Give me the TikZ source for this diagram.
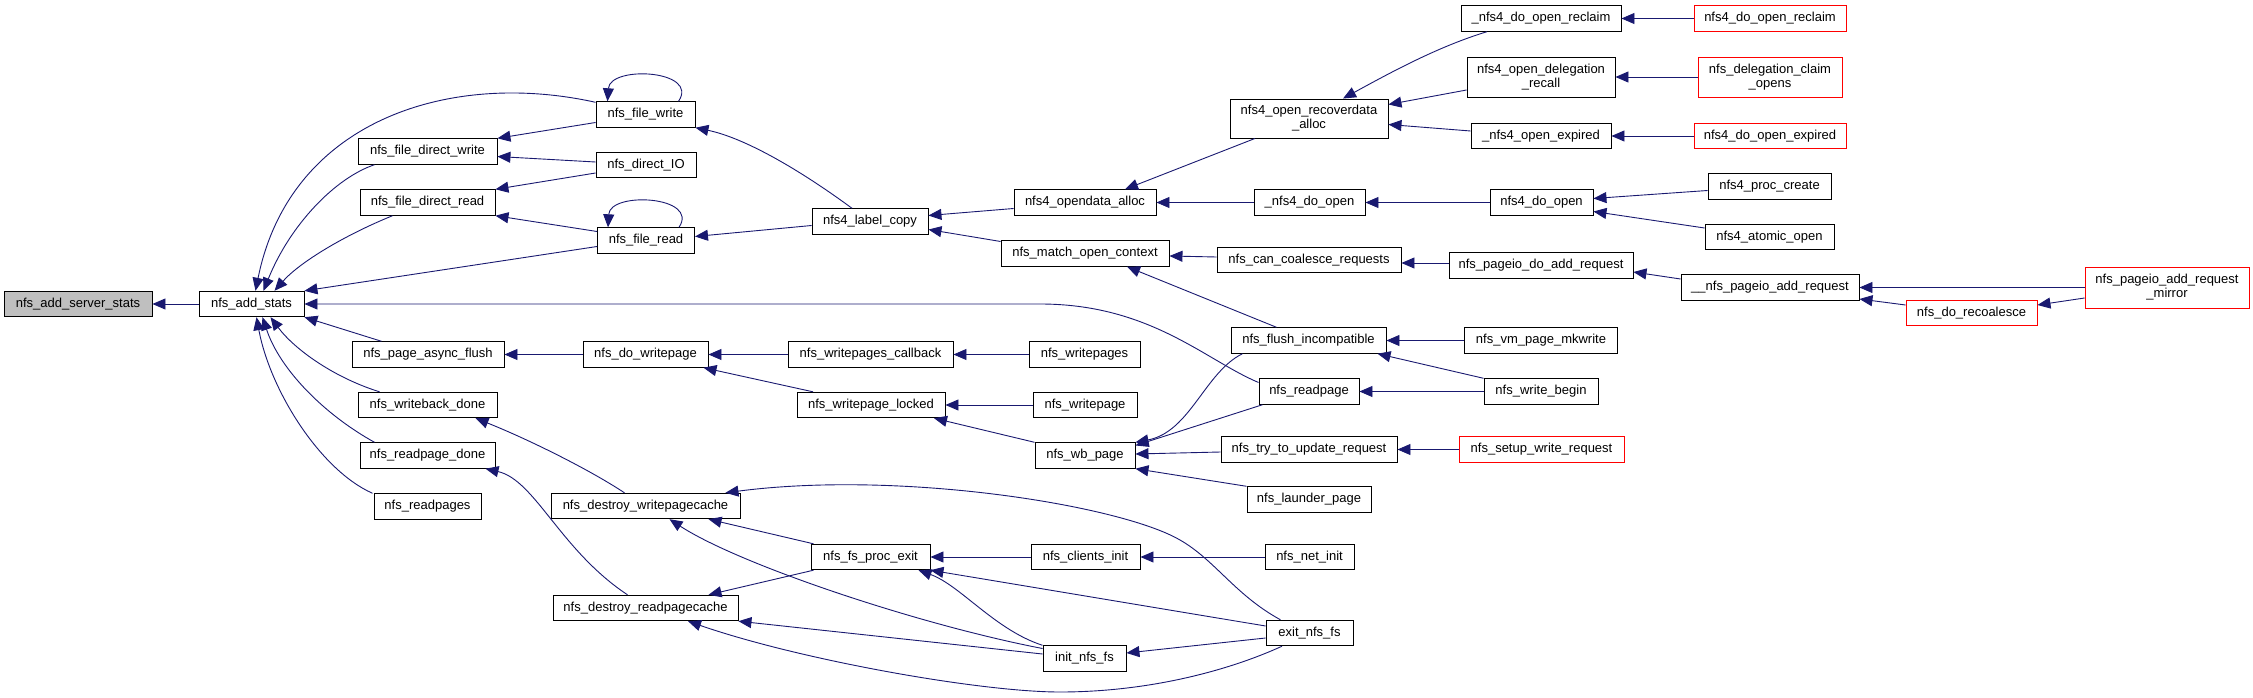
\documentclass[tikz,border=0pt]{standalone}
\usepackage{fontspec}
\setmainfont{Liberation Sans}
\usetikzlibrary{arrows.meta,calc}
\definecolor{edgeblue}{RGB}{25,25,112}
\definecolor{rootgray}{RGB}{191,191,191}
\definecolor{nodered}{RGB}{255,0,0}
\newcommand\fsz{\fontsize{13}{14}\selectfont}
\tikzset{
  fn/.style={draw=black, fill=white, line width=0.9pt, inner sep=0pt, font=\fsz, align=center, minimum height=25.5pt},
  fnred/.style={fn, draw=nodered},
  calls/.style={draw=edgeblue, line width=0.9pt, -{Triangle[length=13pt,width=11pt]}}
}
\begin{document}
\begin{tikzpicture}[x=1pt,y=-1pt]
\useasboundingbox (0,0) rectangle (2253,698);
% column 0/1
\node[fn, fill=rootgray, minimum width=148pt] (addsrv) at (78,304) {nfs\_add\_server\_stats};
\node[fn, minimum width=105pt] (addst) at (251.5,304) {nfs\_add\_stats};
% column 2
\node[fn, minimum width=139pt] (fdw) at (427.5,151.5) {nfs\_file\_direct\_write};
\node[fn, minimum width=135pt] (fdr) at (427.5,202.5) {nfs\_file\_direct\_read};
\node[fn, minimum width=152pt] (paf) at (428,354.5) {nfs\_page\_async\_flush};
\node[fn, minimum width=139pt] (wbd) at (427.5,405) {nfs\_writeback\_done};
\node[fn, minimum width=135pt] (rpd) at (427.5,455.5) {nfs\_readpage\_done};
\node[fn, minimum width=107pt] (rps) at (427.5,506.5) {nfs\_readpages};
% column 3
\node[fn, minimum width=99pt] (fw) at (645.5,114.5) {nfs\_file\_write};
\node[fn, minimum width=100pt] (dio) at (646,165) {nfs\_direct\_IO};
\node[fn, minimum width=97pt] (fr) at (646,240.5) {nfs\_file\_read};
\node[fn, minimum width=125pt] (dwp) at (645.5,354.5) {nfs\_do\_writepage};
\node[fn, minimum width=189pt] (dwc) at (645.5,506) {nfs\_destroy\_writepagecache};
\node[fn, minimum width=185pt] (drc) at (645.5,608) {nfs\_destroy\_readpagecache};
% column 4
\node[fn, minimum width=116pt] (lc) at (870,221.5) {nfs4\_label\_copy};
\node[fn, minimum width=165pt] (wpc) at (870.5,354.5) {nfs\_writepages\_callback};
\node[fn, minimum width=148pt] (wpl) at (871,405) {nfs\_writepage\_locked};
\node[fn, minimum width=119pt] (fpe) at (870.5,557) {nfs\_fs\_proc\_exit};
% column 5
\node[fn, minimum width=142pt] (oda) at (1085,202.5) {nfs4\_opendata\_alloc};
\node[fn, minimum width=168pt] (moc) at (1085,253.5) {nfs\_match\_open\_context};
\node[fn, minimum width=111pt] (wps) at (1084.5,354.5) {nfs\_writepages};
\node[fn, minimum width=104pt] (wp) at (1085,405) {nfs\_writepage};
\node[fn, minimum width=100pt] (wb) at (1085,455.5) {nfs\_wb\_page};
\node[fn, minimum width=109pt] (ci) at (1085.5,557) {nfs\_clients\_init};
\node[fn, minimum width=83pt] (ini) at (1084.5,658.5) {init\_nfs\_fs};
% column 6
\node[fn, minimum width=158pt, minimum height=39pt] (ora) at (1309,118.5) {nfs4\_open\_recoverdata\\\_alloc};
\node[fn, minimum width=111pt] (ndo) at (1309.5,202.5) {\_nfs4\_do\_open};
\node[fn, minimum width=184pt] (ccr) at (1309,260) {nfs\_can\_coalesce\_requests};
\node[fn, minimum width=155pt] (fi) at (1308.5,340.5) {nfs\_flush\_incompatible};
\node[fn, minimum width=100pt] (rp) at (1309,391.5) {nfs\_readpage};
\node[fn, minimum width=176pt] (tur) at (1309,449.5) {nfs\_try\_to\_update\_request};
\node[fn, minimum width=124pt] (lp) at (1309,499.5) {nfs\_launder\_page};
\node[fn, minimum width=89pt] (ni) at (1309.5,557) {nfs\_net\_init};
\node[fn, minimum width=87pt] (ex) at (1309.5,633) {exit\_nfs\_fs};
% column 7
\node[fn, minimum width=160pt] (dor) at (1541,18.5) {\_nfs4\_do\_open\_reclaim};
\node[fn, minimum width=148pt, minimum height=40pt] (odr) at (1541,77) {nfs4\_open\_delegation\\\_recall};
\node[fn, minimum width=140pt] (oe) at (1541,136) {\_nfs4\_open\_expired};
\node[fn, minimum width=103pt] (do) at (1541.5,202.5) {nfs4\_do\_open};
\node[fn, minimum width=184pt] (pdar) at (1541,265.5) {nfs\_pageio\_do\_add\_request};
\node[fn, minimum width=153pt] (vpm) at (1541,340.5) {nfs\_vm\_page\_mkwrite};
\node[fn, minimum width=114pt] (wbg) at (1541,391.5) {nfs\_write\_begin};
\node[fnred, minimum width=165pt] (swr) at (1541.5,449.5) {nfs\_setup\_write\_request};
% column 8
\node[fnred, minimum width=152pt] (rdor) at (1770,18.5) {nfs4\_do\_open\_reclaim};
\node[fnred, minimum width=144pt, minimum height=40pt] (dco) at (1770,77) {nfs\_delegation\_claim\\\_opens};
\node[fnred, minimum width=152pt] (rdoe) at (1770,136) {nfs4\_do\_open\_expired};
\node[fn, minimum width=123pt] (pc) at (1769.5,186.5) {nfs4\_proc\_create};
\node[fn, minimum width=129pt] (ao) at (1769.5,237) {nfs4\_atomic\_open};
\node[fn, minimum width=178pt] (pag) at (1770,287.5) {\_\_nfs\_pageio\_add\_request};
% columns 9/10
\node[fnred, minimum width=131pt] (drco) at (1971.5,313) {nfs\_do\_recoalesce};
\node[fnred, minimum width=164pt, minimum height=41pt] (parm) at (2167,287.5) {nfs\_pageio\_add\_request\\\_mirror};

% edges (arrow at callee)
\draw[calls] (addst.west) -- (addsrv.east);
\draw[calls] ($(fw.north west)+(0,1)$) .. controls (450,70) and (290,120) .. ($(addst.north)+(4,0)$);
\draw[calls] ($(fdw.south west)+(17,0)$) .. controls (335,178) and (290,225) .. ($(addst.north)+(12,0)$);
\draw[calls] ($(fdr.south west)+(33,0)$) .. controls (345,235) and (300,262) .. ($(addst.north)+(23,0)$);
\draw[calls] ($(fr.west)+(0,6)$) -- (addst.north east);
\draw[calls] ($(rp.west)+(0,-9)$) .. controls (1205,360) and (1150,304) .. (1040,304) -- (addst.east);
\draw[calls] ($(paf.north west)+(30,0)$) -- (addst.south east);
\draw[calls] ($(wbd.north west)+(22,0)$) .. controls (335,378) and (295,350) .. ($(addst.south)+(19,0)$);
\draw[calls] ($(rpd.north west)+(15,0)$) .. controls (325,415) and (280,370) .. ($(addst.south)+(11,0)$);
\draw[calls] ($(rps.north west)+(-1,0)$) .. controls (320,470) and (270,390) .. ($(addst.south)+(5,0)$);

\draw[calls] ($(fw.west)+(0,8)$) -- (fdw.north east);
\draw[calls] ($(dio.west)+(0,-3)$) -- ($(fdw.east)+(0,5)$);
\draw[calls] ($(dio.west)+(0,8)$) -- (fdr.north east);
\draw[calls] ($(fr.west)+(0,-9)$) -- (fdr.south east);
\draw[calls] ($(fw.north)+(33,0)$) .. controls (700,70) and (610,65) .. ($(fw.north)+(-38,0)$);
\draw[calls] ($(fr.north)+(33,0)$) .. controls (700,196) and (610,191) .. ($(fr.north)+(-38,0)$);
\draw[calls] ($(lc.north)+(-18,0)$) .. controls (800,170) and (745,138) .. (fw.south east);
\draw[calls] ($(lc.west)+(0,4)$) -- ($(fr.east)+(0,-4)$);
\draw[calls] ($(oda.west)+(0,6)$) -- ($(lc.east)+(0,-6)$);
\draw[calls] ($(moc.west)+(0,-12)$) -- ($(lc.east)+(0,8)$);
\draw[calls] ($(ora.south)+(-54,0)$) -- ($(oda.north)+(40,0)$);
\draw[calls] (ndo.west) -- (oda.east);
\draw[calls] ($(dor.south)+(-54,0)$) .. controls (1440,46) and (1395,70) .. ($(ora.north)+(34,0)$);
\draw[calls] ($(odr.west)+(0,13)$) -- ($(ora.east)+(0,-14)$);
\draw[calls] ($(oe.west)+(0,-5)$) -- ($(ora.east)+(0,6)$);
\draw[calls] (do.west) -- (ndo.east);
\draw[calls] ($(pc.west)+(0,4)$) -- ($(do.east)+(0,-4)$);
\draw[calls] ($(ao.west)+(0,-9)$) -- ($(do.east)+(0,9)$);
\draw[calls] (rdor.west) -- (dor.east);
\draw[calls] (dco.west) -- (odr.east);
\draw[calls] (rdoe.west) -- (oe.east);
\draw[calls] ($(ccr.west)+(0,-3)$) -- ($(moc.east)+(0,2.5)$);
\draw[calls] ($(fi.north)+(-32,0)$) -- ($(moc.south)+(42,0)$);
\draw[calls] ($(pdar.west)+(0,-2.5)$) -- ($(ccr.east)+(0,3)$);
\draw[calls] ($(pag.west)+(0,-8.5)$) -- ($(pdar.east)+(0,6.5)$);
\draw[calls] (parm.west) -- (pag.east);
\draw[calls] ($(drco.west)+(0,-8)$) -- ($(pag.east)+(0,11.5)$);
\draw[calls] ($(parm.west)+(0,10.5)$) -- ($(drco.east)+(0,-8)$);
\draw[calls] (vpm.west) -- (fi.east);
\draw[calls] (wbg.north west) -- ($(fi.south)+(69,0)$);
\draw[calls] (wbg.west) -- (rp.east);
\draw[calls] ($(fi.south)+(-66,0)$) .. controls (1205,372) and (1190,432) .. (wb.north east);
\draw[calls] ($(rp.south west)+(4,0)$) -- ($(wb.east)+(0,-10)$);
\draw[calls] ($(tur.west)+(0,2.5)$) -- ($(wb.east)+(0,-1.5)$);
\draw[calls] (lp.north west) -- (wb.south east);
\draw[calls] (swr.west) -- (tur.east);
\draw[calls] (dwp.west) -- (paf.east);
\draw[calls] (wpc.west) -- (dwp.east);
\draw[calls] (wps.west) -- (wpc.east);
\draw[calls] ($(wpl.north)+(-58,0)$) -- ($(dwp.south)+(58,0)$);
\draw[calls] (wp.west) -- (wpl.east);
\draw[calls] (wb.north west) -- ($(wpl.south)+(63,0)$);
\draw[calls] ($(dwc.north)+(-21,0)$) .. controls (590,470) and (530,440) .. ($(wbd.south)+(48,0)$);
\draw[calls] ($(drc.north)+(-18,0)$) .. controls (560,550) and (535,480) .. ($(rpd.south)+(58,0)$);
\draw[calls] ($(fpe.north)+(-57,0)$) -- ($(dwc.south)+(63,0)$);
\draw[calls] ($(ini.west)+(0,-10)$) .. controls (920,625) and (740,565) .. ($(dwc.south)+(24,0)$);
\draw[calls] ($(ex.north)+(-29,0)$) .. controls (1235,595) and (1215,560) .. (1180,540) .. controls (1120,505) and (900,470) .. ($(dwc.north east)+(-15,0)$);
\draw[calls] ($(fpe.south)+(-57,0)$) -- ($(drc.north)+(63,0)$);
\draw[calls] ($(ini.west)+(0,-4.5)$) -- (drc.south east);
\draw[calls] ($(ex.south)+(-27.5,0)$) .. controls (1230,670) and (1150,692) .. (1060,692) .. controls (980,692) and (800,660) .. ($(drc.south)+(42.5,0)$);
\draw[calls] (ci.west) -- (fpe.east);
\draw[calls] (ni.west) -- (ci.east);
\draw[calls] ($(ex.west)+(0,-7)$) -- (fpe.south east);
\draw[calls] (ini.north west) .. controls (995,630) and (960,585) .. ($(fpe.south)+(48,0)$);
\draw[calls] ($(ex.west)+(0,5)$) -- ($(ini.east)+(0,-5.5)$);
\end{tikzpicture}
\end{document}
